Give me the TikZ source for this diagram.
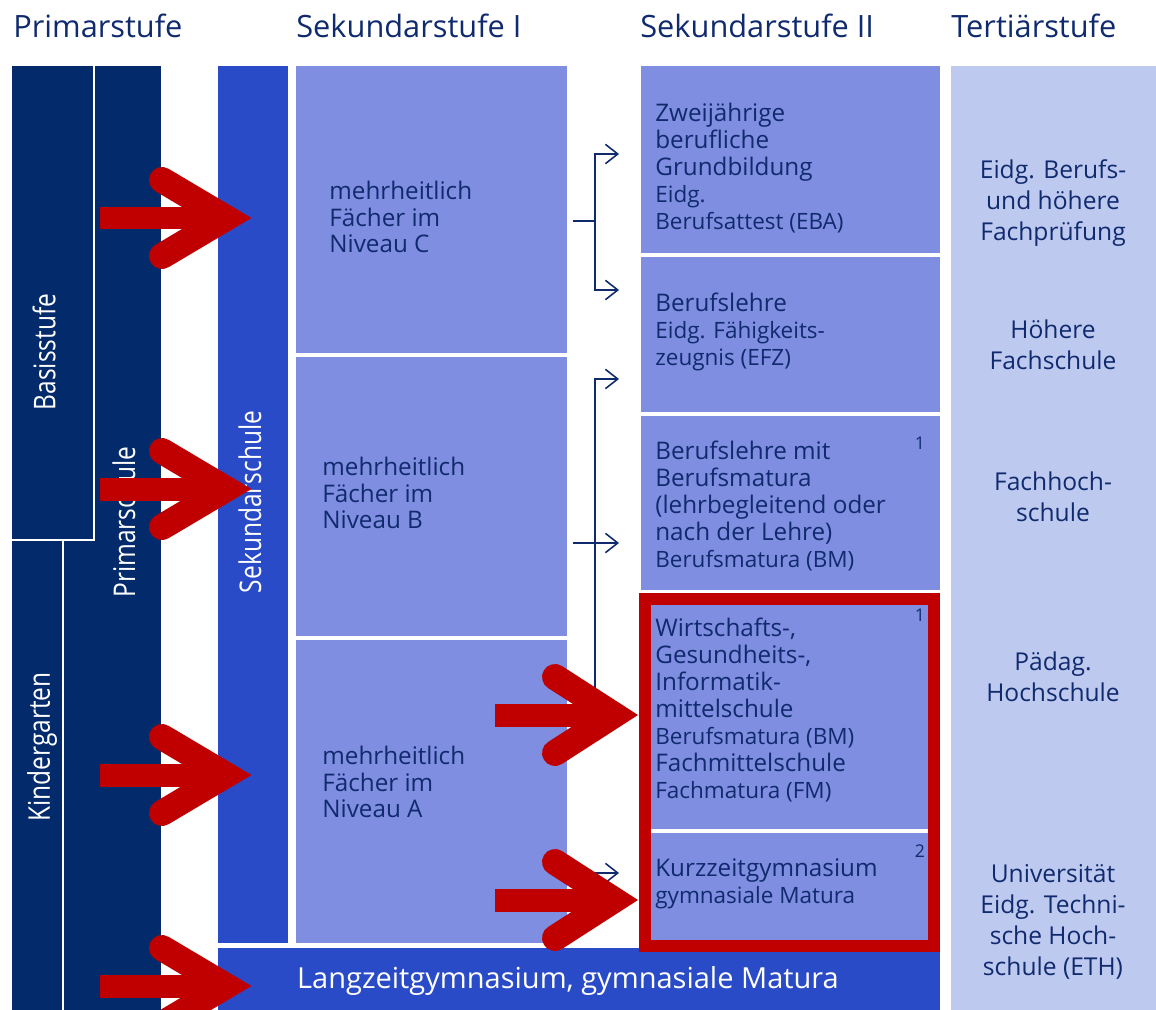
\documentclass[tikz,border=0pt]{standalone}
\usepackage{fontspec}
\setmainfont{Open Sans}
\usepackage{graphicx}
\usepackage{xcolor}
\definecolor{edu-navy}{HTML}{032B6C}
\definecolor{edu-blue}{HTML}{2A4BC7}
\definecolor{edu-light}{HTML}{7F8EE0}
\definecolor{edu-pale}{HTML}{BEC9F0}
\definecolor{edu-red}{HTML}{C00000}
\definecolor{edu-text}{HTML}{102A6E}
\usepackage{tikz}
\usetikzlibrary{arrows.meta,fit}

\newcommand\subtxt{\fontsize{12.8}{15.3}\selectfont}

\tikzset{
    header/.style={anchor=base west, inner sep=0pt, text=edu-text, font=\fontsize{17.5}{21}\selectfont},
    vlabel/.style={rotate=90, inner sep=0pt, text=white, font=\fontsize{17}{20}\selectfont},
    box/.style={inner sep=0pt, outer sep=0pt, draw=none},
    darkbox/.style={box, fill=edu-blue},
    lightbox/.style={box, fill=edu-light},
    palebox/.style={box, fill=edu-pale},
    sectext/.style={anchor=west, align=left, inner sep=0pt, text=edu-text, font=\fontsize{13.8}{15.3}\selectfont},
    terttext/.style={align=center, inner sep=0pt, text=edu-text, font=\fontsize{14}{17.6}\selectfont},
    footref/.style={inner sep=0pt, text=edu-text, font=\fontsize{10}{12}\selectfont},
    divider/.style={white, line width=1.1pt},
    flow/.style={edu-text, line width=0.9pt},
    flowarrow/.style={flow, -{Straight Barb[length=7pt, width=11pt]}},
    redshaft/.style={edu-red, line width=0.46cm},
    redhead/.style={edu-red, line width=0.52cm, line cap=round, line join=miter},
}

\begin{document}
\begin{tikzpicture}[x=0.02cm, y=-0.02cm]

    % Canvas
    \useasboundingbox (0, 0) rectangle (1156, 1010);
    \clip (0, 0) rectangle (1156, 1010);

    % Headers
    \node[header] (hPrim) at (13, 38) {Primarstufe};
    \node[header] (hSekI) at (296, 38) {Sekundarstufe I};
    \node[header] (hSekII) at (640, 38) {Sekundarstufe II};
    \node[header] (hTert) at (951, 38) {Tertiärstufe};

    % Primarstufe
    \fill[edu-navy] (12, 66) rectangle (161, 1010);
    \draw[divider] (94, 66) -- (94, 540) -- (12, 540);
    \draw[divider] (63, 540) -- (63, 1010);
    \node[vlabel] (basis) at (44, 352) {\scalebox{0.82}[1]{Basisstufe}};
    \node[vlabel] (kiga) at (42, 747) {\scalebox{0.82}[1]{Kindergarten}};
    \node[vlabel] (prim) at (124, 522) {\scalebox{0.82}[1]{Primarschule}};

    % Sekundarstufe I
    \node[darkbox, fit={(218, 66) (288, 943)}] (sek) {};
    \node[vlabel] (sekLabel) at (250, 502) {\scalebox{0.82}[1]{Sekundarschule}};
    \node[lightbox, fit={(296, 66) (567, 353)}] (nivC) {};
    \node[lightbox, fit={(296, 357) (567, 636)}] (nivB) {};
    \node[lightbox, fit={(296, 640) (567, 943)}] (nivA) {};
    \node[sectext] (nivCText) at (329, 217) {mehrheitlich\\Fächer im\\Niveau C};
    \node[sectext] (nivBText) at (322, 493) {mehrheitlich\\Fächer im\\Niveau B};
    \node[sectext] (nivAText) at (322, 782) {mehrheitlich\\Fächer im\\Niveau A};

    % Langzeitgymnasium
    \node[darkbox, fit={(218, 948) (940, 1010)}] (langzeit) {};
    \node[inner sep=0pt, text=white, font=\fontsize{16.5}{20}\selectfont] (langzeitText) at (568, 981) {Langzeitgymnasium, gymnasiale Matura};

    % Sekundarstufe II
    \node[lightbox, fit={(641, 66) (940, 253)}] (eba) {};
    \node[lightbox, fit={(641, 257) (940, 412)}] (efz) {};
    \node[lightbox, fit={(641, 416) (940, 590)}] (bm) {};
    \node[lightbox, fit={(641, 594) (940, 829)}] (wms) {};
    \node[lightbox, fit={(641, 833) (940, 943)}] (kzg) {};
    \node[sectext] (ebaText) at (655, 168) {Zweijährige\\berufliche\\Grundbildung\\\subtxt Eidg.\\\subtxt Berufsattest (EBA)};
    \node[sectext] (efzText) at (655, 332) {Berufslehre\\\subtxt Eidg. Fähigkeits-\\\subtxt zeugnis (EFZ)};
    \node[sectext] (bmText) at (655, 506) {Berufslehre mit\\Berufsmatura\\(lehrbegleitend oder\\nach der Lehre)\\\subtxt Berufsmatura (BM)};
    \node[sectext] (wmsText) at (655, 710) {Wirtschafts-,\\Gesundheits-,\\Informatik-\\mittelschule\\\subtxt Berufsmatura (BM)\\Fachmittelschule\\\subtxt Fachmatura (FM)};
    \node[sectext] (kzgText) at (655, 884) {Kurzzeitgymnasium\\\subtxt gymnasiale Matura};
    \node[footref] (bmRef) at (920, 443) {1};
    \node[footref] (wmsRef) at (920, 615) {1};
    \node[footref] (kzgRef) at (920, 851) {2};

    % Tertiaerstufe
    \node[palebox, fit={(951, 66) (1156, 1010)}] (tert) {};
    \node[terttext] (tBerufs) at (1053, 203) {Eidg. Berufs-\\und höhere\\Fachprüfung};
    \node[terttext] (tHF) at (1053, 345) {Höhere\\Fachschule};
    \node[terttext] (tFH) at (1053, 497) {Fachhoch-\\schule};
    \node[terttext] (tPH) at (1053, 677) {Pädag.\\Hochschule};
    \node[terttext] (tUni) at (1053, 922) {Universität\\Eidg. Techni-\\sche Hoch-\\schule (ETH)};

    % Connectors
    \coordinate (sC) at (573, 221);
    \coordinate (jC) at (595, 221);
    \coordinate (tEBA) at (619, 154);
    \coordinate (tEFZ) at (619, 290);
    \draw[flow] (sC) -- (jC);
    \draw[flowarrow] (jC) |- (tEBA);
    \draw[flowarrow] (jC) |- (tEFZ);

    \coordinate (sA) at (573, 715);
    \coordinate (jA) at (595, 379);
    \coordinate (tEFZb) at (619, 379);
    \draw[flowarrow] (sA) -| (jA) -- (tEFZb);

    \coordinate (sB) at (573, 543);
    \coordinate (tBM) at (619, 543);
    \draw[flowarrow] (sB) -- (tBM);

    \coordinate (sK) at (573, 873);
    \coordinate (tKZG) at (619, 873);
    \draw[flowarrow] (sK) -- (tKZG);

    % Red frame
    \draw[edu-red, line width=0.24cm] (645, 599) rectangle (934, 946);

    % Red arrows
    \draw[redshaft] (100, 218) -- (226, 218);
    \draw[redhead] (162, 180) -- (226, 218) -- (162, 256);

    \draw[redshaft] (100, 489) -- (226, 489);
    \draw[redhead] (162, 451) -- (226, 489) -- (162, 527);

    \draw[redshaft] (100, 775) -- (226, 775);
    \draw[redhead] (162, 737) -- (226, 775) -- (162, 813);

    \draw[redshaft] (100, 986) -- (226, 986);
    \draw[redhead] (162, 948) -- (226, 986) -- (162, 1024);

    \draw[redshaft] (495, 715) -- (614, 715);
    \draw[redhead] (555, 677) -- (614, 715) -- (555, 753);

    \draw[redshaft] (495, 900) -- (614, 900);
    \draw[redhead] (555, 862) -- (614, 900) -- (555, 938);

\end{tikzpicture}
\end{document}
